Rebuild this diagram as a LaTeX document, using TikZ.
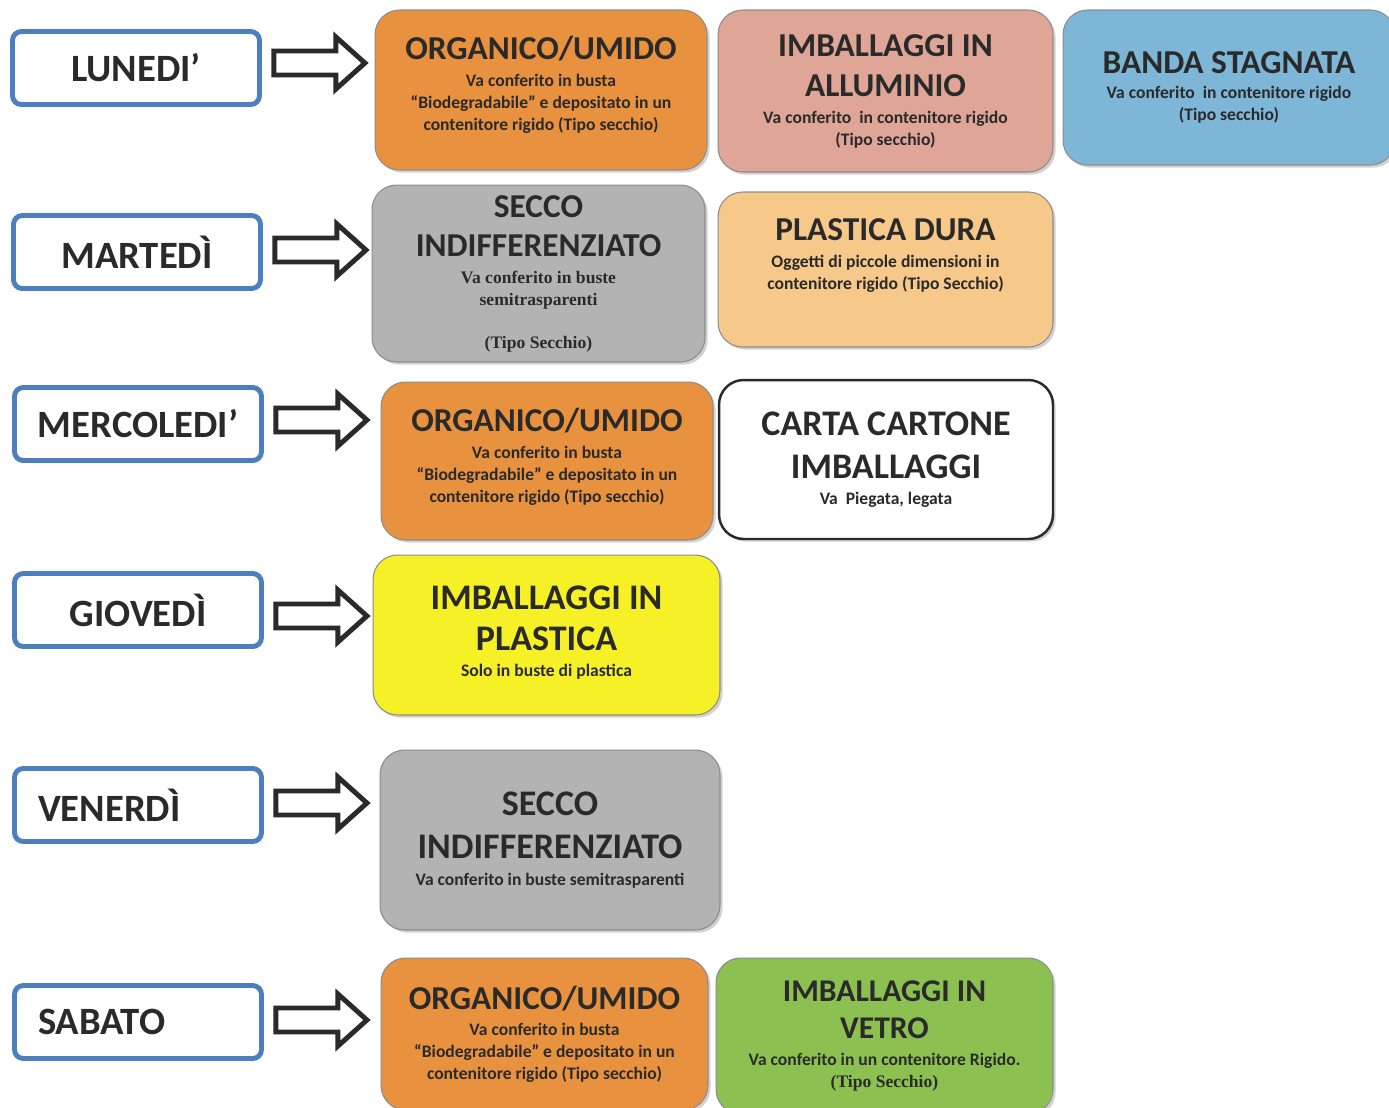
\documentclass[tikz,border=0pt]{standalone}
\usepackage{fontspec}
\setmainfont{Carlito}
\newfontfamily\timesbf{Liberation Serif}
\usepackage{tikz}
\usetikzlibrary{calc,shadows}

\definecolor{dayblue}{HTML}{4C7FBD}
\definecolor{ink}{HTML}{2A2A2A}
\definecolor{orgcol}{HTML}{E8923F}
\definecolor{alucol}{HTML}{DFA596}
\definecolor{bandacol}{HTML}{7DB6D6}
\definecolor{seccocol}{HTML}{B3B3B3}
\definecolor{duracol}{HTML}{F6C88A}
\definecolor{plastcol}{HTML}{F6F026}
\definecolor{vetrocol}{HTML}{8CC152}

\newcommand{\dayf}{\fontsize{22}{26}\selectfont}
\newcommand{\titf}{\fontsize{19}{23}\selectfont}
\newcommand{\bigtitf}{\fontsize{20.5}{24}\selectfont}
\newcommand{\subf}{\fontsize{10}{12.5}\selectfont}

% block arrow out of a day box
\newcommand{\darrow}[2]{%
	\draw[barrow] ($(#1.east)+(12,#2)$) ++(0,-12) -- ++(62,0) -- ++(0,-14) -- ++(29,26) -- ++(-29,26) -- ++(0,-14) -- ++(-62,0) -- cycle;}

\tikzset{
	day/.style={draw=dayblue, line width=2.8pt, rounded corners=5pt, fill=white, minimum width=4.94cm, minimum height=1.46cm, inner sep=0pt, font=\dayf\bfseries, text=ink},
	bin/.style={draw=black!45, line width=0.6pt, rounded corners=14pt, inner sep=0pt, align=center, text=ink, font=\bfseries\subf, drop shadow={shadow xshift=1.5pt, shadow yshift=-1.5pt, opacity=0.35}},
	barrow/.style={draw=ink, line width=2.8pt, fill=white, line join=miter},
}

\begin{document}
\begin{tikzpicture}[x=0.02cm, y=-0.02cm]
	\useasboundingbox[fill=white] (0,0) rectangle (1389,1107);

	% days
	\node[day] (lun) at (136,68) {LUNEDI’};
	\node[day] (mar) at (137,252) {MARTEDÌ};
	\node[day] (mer) at (138,424) {MERCOLEDI’};
	\node[day] (gio) at (138,610) {GIOVEDÌ};
	\node[day, text width=4cm, align=left] (ven) at (138,805) {VENERDÌ};
	\node[day, text width=4cm, align=left] (sab) at (138,1022) {SABATO};

	\darrow{lun}{-5}
	\darrow{mar}{-2}
	\darrow{mer}{-4}
	\darrow{gio}{6}
	\darrow{ven}{-2}
	\darrow{sab}{-2}

	% lunedi
	\node[bin, fill=orgcol, minimum width=6.64cm, minimum height=3.2cm] (org1) at (541,90)
		{\titf ORGANICO/UMIDO\\[2.5pt] Va conferito in busta\\ “Biodegradabile” e depositato in un\\ contenitore rigido (Tipo secchio)\\[-4.8pt]};
	\node[bin, fill=alucol, minimum width=6.7cm, minimum height=3.24cm] (allu) at (885.5,91)
		{\titf IMBALLAGGI IN\\[9.5pt] \titf ALLUMINIO\\[2.5pt] Va conferito\ \ in contenitore rigido\\ (Tipo secchio)};
	\node[bin, fill=bandacol, minimum width=6.64cm, minimum height=3.1cm] (banda) at (1229,87.5)
		{\titf BANDA STAGNATA\\[1.5pt] Va conferito\ \ in contenitore rigido\\ (Tipo secchio)};

	% martedi
	\node[bin, fill=seccocol, minimum width=6.66cm, minimum height=3.54cm] (secco1) at (538.5,273.5)
		{\titf SECCO\\[9pt] \titf INDIFFERENZIATO\\[2.5pt] \timesbf Va conferito in buste\\ \timesbf semitrasparenti\\[12pt] \timesbf (Tipo Secchio)};
	\node[bin, fill=duracol, minimum width=6.7cm, minimum height=3.1cm] (dura) at (885.5,269.5)
		{\titf PLASTICA DURA\\[2.5pt] Oggetti di piccole dimensioni in\\ contenitore rigido (Tipo Secchio)\\[5pt]};

	% mercoledi
	\node[bin, fill=orgcol, minimum width=6.64cm, minimum height=3.16cm] (org2) at (547,461)
		{\titf ORGANICO/UMIDO\\[2.5pt] Va conferito in busta\\ “Biodegradabile” e depositato in un\\ contenitore rigido (Tipo secchio)\\[-5.9pt]};
	\node[bin, fill=white, draw=ink, line width=1.4pt, minimum width=6.68cm, minimum height=3.18cm] (carta) at (886,459.5)
		{\bigtitf CARTA CARTONE\\[10pt] \bigtitf IMBALLAGGI\\[2.5pt] Va\ \ Piegata, legata};

	% giovedi
	\node[bin, fill=plastcol, minimum width=6.94cm, minimum height=3.2cm] (plast) at (546.5,635)
		{\bigtitf IMBALLAGGI IN\\[9pt] \bigtitf PLASTICA\\[2.5pt] Solo in buste di plastica\\[-8.2pt]};

	% venerdi
	\node[bin, fill=seccocol, minimum width=6.8cm, minimum height=3.6cm] (secco2) at (550,840)
		{\bigtitf SECCO\\[10pt] \bigtitf INDIFFERENZIATO\\[2.5pt] Va conferito in buste semitrasparenti};

	% sabato
	\node[bin, fill=orgcol, minimum width=6.54cm, minimum height=3.04cm] (org3) at (544.5,1034)
		{\titf ORGANICO/UMIDO\\[2.5pt] Va conferito in busta\\ “Biodegradabile” e depositato in un\\ contenitore rigido (Tipo secchio)};
	\node[bin, fill=vetrocol, minimum width=6.74cm, minimum height=3.12cm] (vetro) at (884.5,1036)
		{\fontsize{18}{22}\selectfont IMBALLAGGI IN\\[8.7pt] \fontsize{18}{22}\selectfont VETRO\\[2.5pt] Va conferito in un contenitore Rigido.\\ \timesbf (Tipo Secchio)};
\end{tikzpicture}
\end{document}
